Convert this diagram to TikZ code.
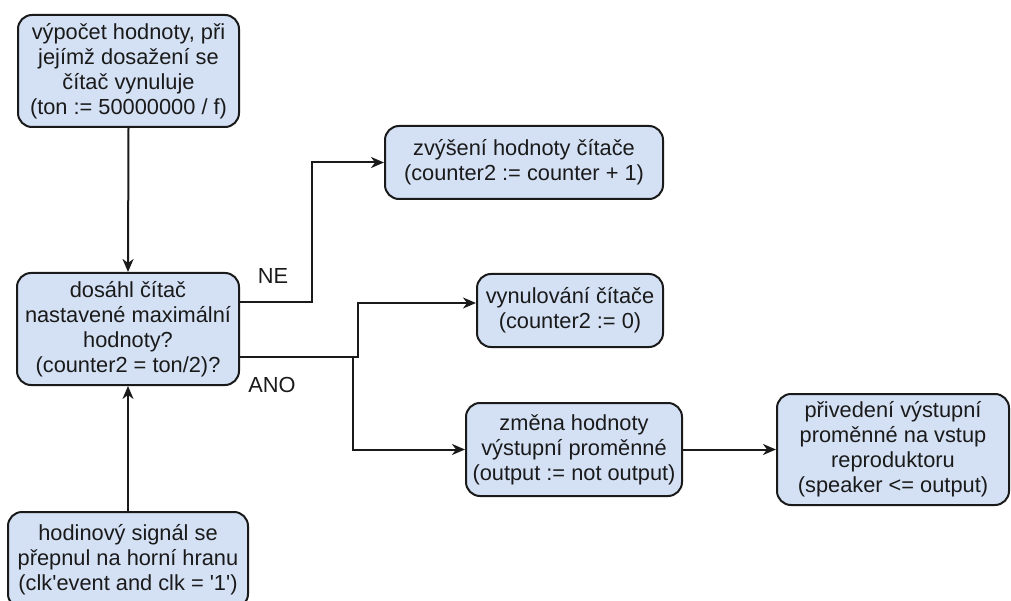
\documentclass[tikz,border=0pt]{standalone}
\usepackage{fontspec}
\setmainfont{Liberation Sans}[Ligatures=TeXOff]
\usetikzlibrary{arrows.meta}
\definecolor{boxfill}{HTML}{D4E1F5}
\definecolor{boxline}{HTML}{1A1A1A}
\definecolor{txt}{HTML}{1A1A1A}
\tikzset{
  stepbox/.style={draw=boxline, line width=2pt, fill=boxfill, rounded corners=14pt,
    align=center, inner sep=0pt, text=txt,
    font=\fontsize{21.8}{25}\selectfont},
  link/.style={draw=boxline, line width=2pt, -{Stealth[length=13pt,width=11pt,inset=4pt]}},
  lbl/.style={text=txt, font=\fontsize{21.8}{25}\selectfont, inner sep=0pt}
}
\begin{document}
\begin{tikzpicture}[x=1pt,y=-1pt]
\clip (0,0) rectangle (1011,601);
\useasboundingbox (0,0) rectangle (1011,601);

% process boxes
\node[stepbox, minimum width=221pt, minimum height=112pt] (calc) at (128.5,71)
  {výpočet hodnoty, při\\jejímž dosažení se\\čítač vynuluje\\(ton := 50000000 / f)};
\node[stepbox, minimum width=222pt, minimum height=112pt] (cond) at (128,329)
  {dosáhl čítač\\nastavené maximální\\hodnoty?\\(counter2 = ton/2)?};
\node[stepbox, minimum width=240pt, minimum height=96pt] (clk) at (128,560)
  {hodinový signál se\\přepnul na horní hranu\\(clk'event and clk = '1')};
\node[stepbox, minimum width=278pt, minimum height=73pt] (inc) at (524,162.5)
  {zvýšení hodnoty čítače\\(counter2 := counter + 1)};
\node[stepbox, minimum width=186pt, minimum height=73pt] (rst) at (570,310.5)
  {vynulování čítače\\(counter2 := 0)};
\node[stepbox, minimum width=216pt, minimum height=93pt] (tog) at (574,449.5)
  {změna hodnoty\\výstupní proměnné\\(output := not output)};
\node[stepbox, minimum width=232pt, minimum height=111pt] (spk) at (893,449.5)
  {přivedení výstupní\\proměnné na vstup\\reproduktoru\\(speaker <= output)};

% branch corners
\coordinate (ne) at (312,302);
\coordinate (anoA) at (358,357);
\coordinate (anoB) at (353,357);

% connectors
\draw[link] (calc.south) -- (cond.north);
\draw[link] (clk.north) -- (cond.south);
\draw[link] (cond.east |- ne) -- (ne) |- (inc.west);
\draw[link] (cond.east |- anoA) -- (anoA) -- (anoA |- 0,303) -- (rst.west |- 0,303);
\draw[link] (anoB) |- (tog.west);
\draw[link] (tog.east) -- (spk.west);

% branch labels
\node[lbl] (nelbl) at (273,276) {NE};
\node[lbl] (anolbl) at (272,385) {ANO};
\end{tikzpicture}
\end{document}
